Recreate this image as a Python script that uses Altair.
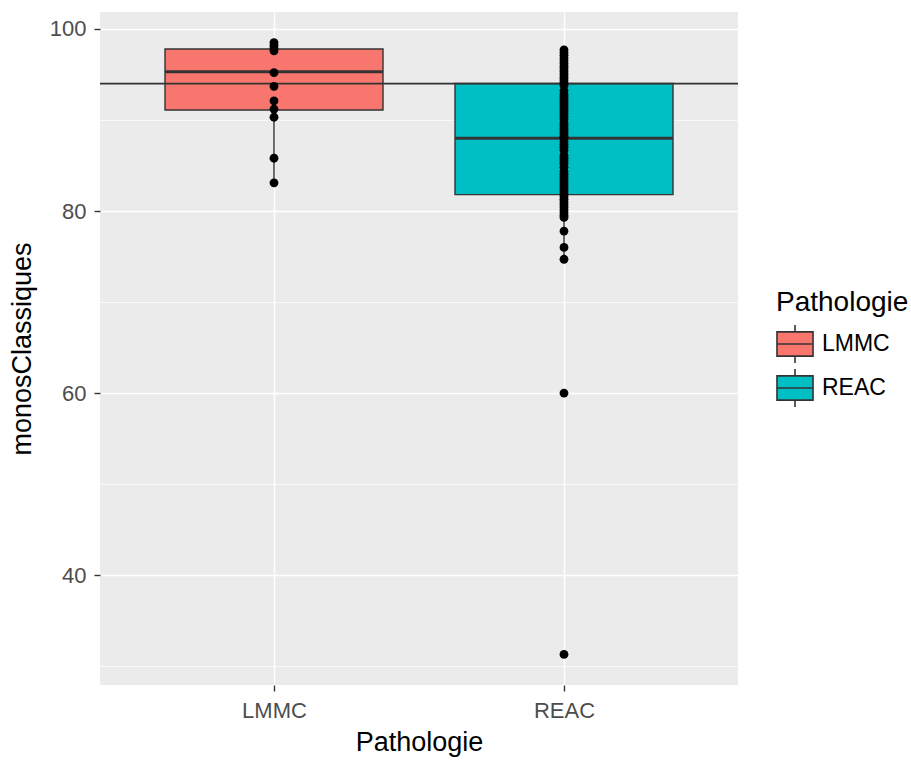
import altair as alt
import pandas as pd

# ---- data ----
categories = ["LMMC", "REAC"]
box_q1 = [91.1, 81.8]
box_median = [95.3, 88.0]
box_q3 = [97.8, 94.0]
whisker_low = [83.1, 74.7]
whisker_high = [98.5, 97.7]
hline_value = 94.0

lmmc_points = [98.5, 98.2, 97.9, 97.6, 95.2, 93.7, 92.1, 91.2, 90.3, 85.8, 83.1]
reac_points = [97.7, 97.4, 97.1, 96.8, 96.5, 96.2, 95.9, 95.6, 95.3, 95.0, 94.7,
               94.4, 94.1, 93.8, 93.2, 92.8, 92.5, 92.2, 91.9, 91.6, 91.3,
               91.0, 90.7, 90.4, 90.1, 89.7, 89.4, 89.1, 88.8, 88.5, 88.2, 88.0,
               87.6, 87.3, 87.0, 86.7, 86.1, 85.8, 85.5, 85.2, 84.8, 84.3, 84.0,
               83.7, 83.4, 83.1, 82.8, 82.5, 82.2, 81.9, 81.6, 81.3, 81.0, 80.7,
               80.4, 80.1, 79.8, 79.5, 79.3, 77.8, 76.0, 74.7, 60.0, 31.3]

colors = ["#F8766D", "#00BFC4"]

box_df = pd.DataFrame({
    "Pathologie": categories,
    "q1": box_q1, "median": box_median, "q3": box_q3,
    "lo": whisker_low, "hi": whisker_high,
})
pts_df = pd.DataFrame({
    "Pathologie": ["LMMC"] * len(lmmc_points) + ["REAC"] * len(reac_points),
    "monosClassiques": lmmc_points + reac_points,
})

FONT = "Liberation Sans"
x_enc = alt.X("Pathologie:N", title="Pathologie",
              scale=alt.Scale(type="point", padding=0.6, domain=categories),
              axis=alt.Axis(labelAngle=0))
y_scale = alt.Scale(domain=[27.94, 101.86], nice=False, zero=False)
y_axis = alt.Axis(
    values=[30, 40, 50, 60, 70, 80, 90, 100],
    labelExpr="datum.value % 20 === 0 ? datum.label : ''",
    tickOpacity={"condition": {"test": "datum.value % 20 === 0", "value": 1}, "value": 0},
    gridWidth={"condition": {"test": "datum.value % 20 === 0", "value": 1.4}, "value": 0.7},
    labelPadding=8,
    titlePadding=13,
)

base = alt.Chart(box_df)

whiskers = base.mark_rule(color="#333333", strokeWidth=1.4).encode(
    x=x_enc,
    y=alt.Y("lo:Q", scale=y_scale, axis=y_axis, title="monosClassiques"),
    y2="hi:Q",
)

boxes = base.mark_bar(width=218, stroke="#333333", strokeWidth=1.4, opacity=1).encode(
    x=x_enc,
    y=alt.Y("q1:Q", scale=y_scale),
    y2="q3:Q",
    color=alt.Color(
        "Pathologie:N",
        scale=alt.Scale(domain=categories, range=colors),
        legend=alt.Legend(
            title="Pathologie",
            orient="none", legendX=676, legendY=277,
            symbolType="M-1,-0.67H1V0.67H-1Z M-1,0H1 M0,-0.67V-1.05 M0,0.67V1.05",
            symbolSize=1300,
            symbolStrokeColor="#333333",
            symbolStrokeWidth=1.6,
            symbolOpacity=1,
            labelFontSize=23, titleFontSize=28,
            labelFont=FONT, titleFont=FONT,
            titleFontWeight="normal", labelColor="#000000", titleColor="#000000",
            rowPadding=-2, titlePadding=8, labelOffset=8,
        ),
    ),
)

medians = base.mark_tick(color="#333333", thickness=3, size=218, opacity=1).encode(
    x=x_enc,
    y=alt.Y("median:Q", scale=y_scale),
)

hline = alt.Chart(pd.DataFrame({"v": [hline_value]})).mark_rule(
    color="#333333", strokeWidth=1.8
).encode(y=alt.Y("v:Q", scale=y_scale))

points = alt.Chart(pts_df).mark_circle(color="#000000", size=78, opacity=1).encode(
    x=x_enc,
    y=alt.Y("monosClassiques:Q", scale=y_scale),
)

chart = alt.layer(whiskers, boxes, medians, hline, points).properties(
    width=638, height=673,
    autosize=alt.AutoSizeParams(type="none"),
    padding={"left": 100, "top": 12, "right": 173, "bottom": 75},
    background="#FFFFFF",
).configure_view(
    fill="#EBEBEB", stroke=None,
).configure_axis(
    domain=False,
    grid=True, gridColor="#FFFFFF",
    tickColor="#333333", tickSize=6, tickWidth=1.4,
    labelColor="#4D4D4D", labelFont=FONT, labelFontSize=22, labelPadding=4,
    titleFont=FONT, titleFontSize=27, titleFontWeight="normal", titleColor="#000000",
).configure_axisX(
    gridWidth=1.4, titlePadding=8, labelPadding=9,
)

chart.save("out.html", embed_options={"renderer": "svg", "actions": False})
